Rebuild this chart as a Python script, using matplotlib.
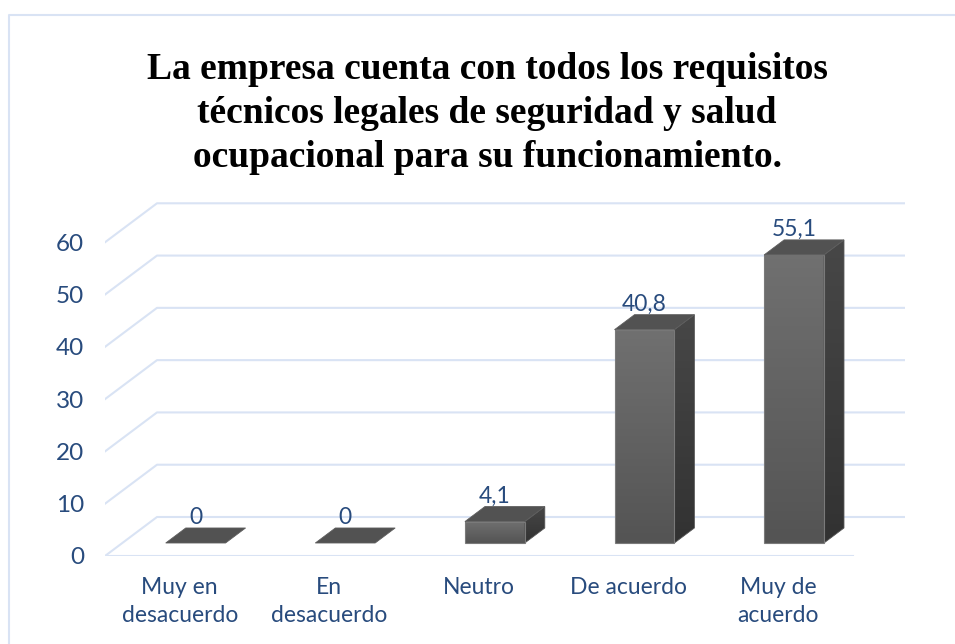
import matplotlib.pyplot as plt
import numpy as np
from matplotlib.patches import Polygon
from matplotlib.lines import Line2D

# Chart data
categorias = ["Muy en\ndesacuerdo", "En\ndesacuerdo", "Neutro", "De acuerdo", "Muy de\nacuerdo"]
valores = [0, 0, 4.1, 40.8, 55.1]
etiquetas = ["0", "0", "4,1", "40,8", "55,1"]
ticks_y = [0, 10, 20, 30, 40, 50, 60]
titulo = ("La empresa cuenta con todos los requisitos\n"
          "técnicos legales de seguridad y salud\n"
          "ocupacional para su funcionamiento.")

azul = "#284B7D"
rejilla = "#D9E3F4"

fig = plt.figure(figsize=(9.55, 6.44), dpi=100)
W, H = 955, 644

# plot area in pixels: left 105, right 905, front floor at 556, top 190
ax = fig.add_axes([105 / W, (H - 556) / H, 800 / W, 366 / H])
px_x = 149.6                 # pixels per category
px_y = 366 / 70.0            # pixels per value unit
ax.set_xlim(0, 800 / px_x)
ax.set_ylim(0, 70)
for s in ax.spines.values():
    s.set_visible(False)

# depth of the 3D floor
DX = 52 / px_x
DY = 39 / px_y
n = len(categorias)

# gridlines: front diagonal then back wall
for v in ticks_y:
    ax.add_line(Line2D([0, DX, n + DX], [v, v + DY, v + DY], color=rejilla, lw=1.5, zorder=1))
ax.add_line(Line2D([0, n], [0, 0], color=rejilla, lw=1.5, zorder=1))

# bars: front face at 1/3 depth, bar depth 0.385 of floor
f1 = 1 / 3
fb = 0.385
bw = 0.4
ddx, ddy = fb * DX, fb * DY


def gradiente(poly, c_top, c_bot, x0, x1, y0, y1):
    col = np.linspace(0, 1, 64)[:, None]
    a = np.array(plt.matplotlib.colors.to_rgb(c_top))
    b = np.array(plt.matplotlib.colors.to_rgb(c_bot))
    img = (a[None, None, :] * (1 - col[..., None]) + b[None, None, :] * col[..., None])
    img = np.repeat(img, 2, axis=1)
    im = ax.imshow(img, extent=[x0, x1, y0, y1], origin="upper", aspect="auto", zorder=3)
    im.set_clip_path(poly)


for k, v in enumerate(valores):
    x0 = k + 0.29 + f1 * DX
    x1 = x0 + bw
    y0 = f1 * DY
    y1 = y0 + v
    if v > 0:
        side = Polygon([(x1, y0), (x1 + ddx, y0 + ddy), (x1 + ddx, y1 + ddy), (x1, y1)],
                       closed=True, facecolor="none", edgecolor="#555555", lw=0.6, zorder=4)
        ax.add_patch(side)
        gradiente(side, "#474747", "#323232", x1, x1 + ddx, y0, y1 + ddy)
        front = Polygon([(x0, y0), (x1, y0), (x1, y1), (x0, y1)],
                        closed=True, facecolor="none", edgecolor="#7A7A7A", lw=0.8, zorder=4)
        ax.add_patch(front)
        gradiente(front, "#707070", "#545454", x0, x1, y0, y1)
    top = Polygon([(x0, y1), (x1, y1), (x1 + ddx, y1 + ddy), (x0 + ddx, y1 + ddy)],
                  closed=True, facecolor="#525252", edgecolor="#5E5E5E", lw=0.6, zorder=5)
    ax.add_patch(top)
    ax.text((x0 + x1) / 2, y1 + ddy + 2.0, etiquetas[k], ha="center", va="center",
            fontsize=16.5, color=azul, family="Lato", zorder=6)

ax.set_xticks([k + 0.5 for k in range(n)])
ax.set_xticklabels(categorias, fontsize=16.5, color=azul, family="Lato", linespacing=1.45)
ax.set_yticks(ticks_y)
ax.set_yticklabels([str(t) for t in ticks_y], fontsize=17.5, color=azul, family="Lato")
ax.tick_params(axis="x", length=0, pad=15)
ax.tick_params(axis="y", length=0, pad=15)

fig.text(487 / W, 1 - 52 / H, titulo, ha="center", va="top", fontsize=27,
         fontweight="bold", family="Liberation Serif", linespacing=1.33)

# chart border
fig.add_artist(Line2D([9 / W, 9 / W, 1], [0, 1 - 15 / H, 1 - 15 / H],
                      transform=fig.transFigure, color=rejilla, lw=1.5))

fig.savefig("out.png", dpi=100)
